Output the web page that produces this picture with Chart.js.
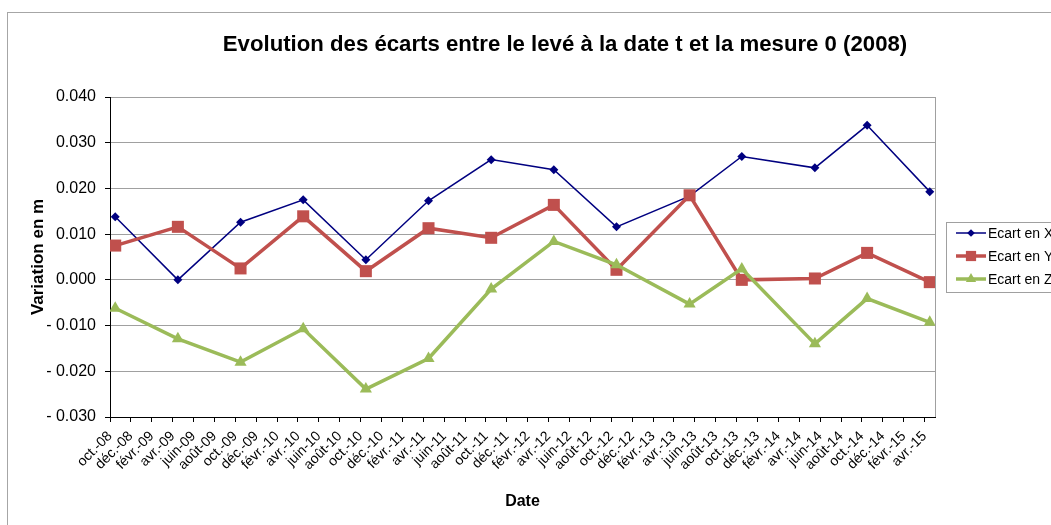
<!DOCTYPE html>
<html lang="fr">
<head>
<meta charset="utf-8">
<title>Evolution des écarts</title>
<script src="https://cdn.jsdelivr.net/npm/chart.js@4.4.1/dist/chart.umd.min.js"></script>
<style>
  html, body { margin: 0; padding: 0; background: #fff; overflow: hidden; }
  #cadre { position: relative; width: 1130px; height: 525px; }
</style>
</head>
<body>
<div id="cadre"><canvas id="graphe"></canvas></div>
<script>
// Dates des levés, en mois depuis le 1er oct. 2008 (levés en milieu de mois)
const moisLeves = [0.5, 6.5, 12.5, 18.5, 24.5, 30.5, 36.5, 42.5, 48.5, 55.5, 60.5, 67.5, 72.5, 78.5];

// Ecarts par rapport à la mesure 0, en m
const ecartX = [0.0138, 0.0000, 0.0126, 0.0175, 0.0044, 0.0173, 0.0263, 0.0241, 0.0116, 0.0183, 0.0270, 0.0245, 0.0338, 0.0193];
const ecartY = [0.0075, 0.0116, 0.0025, 0.0139, 0.0019, 0.0113, 0.0092, 0.0164, 0.0022, 0.0185, 0.0000, 0.0003, 0.0059, -0.0005];
const ecartZ = [-0.0062, -0.0129, -0.0180, -0.0107, -0.0239, -0.0172, -0.0020, 0.0084, 0.0033, -0.0053, 0.0024, -0.0140, -0.0041, -0.0093];

// Graduations de l'axe des dates : une tous les 2 mois depuis oct. 2008
const etiquettesDates = [
  'oct.-08', 'déc.-08',
  'févr.-09', 'avr.-09', 'juin-09', 'août-09', 'oct.-09', 'déc.-09',
  'févr.-10', 'avr.-10', 'juin-10', 'août-10', 'oct.-10', 'déc.-10',
  'févr.-11', 'avr.-11', 'juin-11', 'août-11', 'oct.-11', 'déc.-11',
  'févr.-12', 'avr.-12', 'juin-12', 'août-12', 'oct.-12', 'déc.-12',
  'févr.-13', 'avr.-13', 'juin-13', 'août-13', 'oct.-13', 'déc.-13',
  'févr.-14', 'avr.-14', 'juin-14', 'août-14', 'oct.-14', 'déc.-14',
  'févr.-15', 'avr.-15'
];

const titre = 'Evolution des écarts entre le levé à la date t et la mesure 0 (2008)';
const police = '"Liberation Sans", Arial, sans-serif';

const points = (valeurs) => moisLeves.map((m, i) => ({ x: m, y: valeurs[i] }));

// cadre, titre, bord droit de la zone de tracé et légende façon Excel
const habillage = {
  id: 'habillage',
  beforeDraw(chart) {
    const ctx = chart.ctx;
    ctx.save();
    ctx.strokeStyle = '#a6a6a6';
    ctx.lineWidth = 1;
    ctx.strokeRect(7.5, 12.5, chart.width - 15, chart.height + 20);
    ctx.fillStyle = '#000';
    ctx.font = 'bold 22.2px ' + police;
    ctx.textAlign = 'center';
    ctx.textBaseline = 'alphabetic';
    ctx.fillText(titre, chart.width / 2, 51);
    ctx.restore();
  },
  beforeDatasetsDraw(chart) {
    const { ctx, chartArea: a } = chart;
    ctx.save();
    ctx.strokeStyle = '#a0a0a0';
    ctx.lineWidth = 1;
    ctx.beginPath();
    ctx.moveTo(Math.round(a.right) + 0.5, a.top);
    ctx.lineTo(Math.round(a.right) + 0.5, a.bottom);
    ctx.stroke();
    ctx.restore();
  },
  afterDraw(chart) {
    const ctx = chart.ctx;
    const x0 = Math.round(chart.chartArea.right) + 11;
    const y0 = 222;
    ctx.save();
    ctx.strokeStyle = '#a0a0a0';
    ctx.lineWidth = 1;
    ctx.strokeRect(x0 + 0.5, y0 + 0.5, 130, 70);
    ctx.font = '14px ' + police;
    ctx.textBaseline = 'middle';
    ctx.textAlign = 'left';
    chart.data.datasets.forEach((ds, i) => {
      const y = y0 + 11 + i * 23;
      ctx.strokeStyle = ds.borderColor;
      ctx.lineWidth = ds.borderWidth;
      ctx.beginPath();
      ctx.moveTo(x0 + 10, y);
      ctx.lineTo(x0 + 40, y);
      ctx.stroke();
      ctx.fillStyle = ds.pointBackgroundColor;
      Chart.helpers.drawPoint(ctx, { pointStyle: ds.pointStyle, radius: ds.pointRadius * 0.85, rotation: 0, borderWidth: 0 }, x0 + 25, y);
      ctx.fillStyle = '#000';
      ctx.fillText(ds.label, x0 + 42, y + 1);
    });
    ctx.restore();
  }
};

new Chart(document.getElementById('graphe'), {
  type: 'line',
  data: {
    datasets: [
      {
        label: 'Ecart en X', data: points(ecartX), order: 3,
        borderColor: '#000080', backgroundColor: '#000080', borderWidth: 1.5,
        pointStyle: 'rectRot', pointRadius: 4.5, pointBackgroundColor: '#000080', pointBorderWidth: 0
      },
      {
        label: 'Ecart en Y', data: points(ecartY), order: 2,
        borderColor: '#c0504d', backgroundColor: '#c0504d', borderWidth: 3.5,
        pointStyle: 'rect', pointRadius: 8.5, pointBackgroundColor: '#c0504d', pointBorderWidth: 0
      },
      {
        label: 'Ecart en Z', data: points(ecartZ), order: 1,
        borderColor: '#9bbb59', backgroundColor: '#9bbb59', borderWidth: 3.5,
        pointStyle: 'triangle', pointRadius: 7, pointBackgroundColor: '#9bbb59', pointBorderWidth: 0
      }
    ]
  },
  options: {
    responsive: true,
    maintainAspectRatio: false,
    animation: false,
    layout: { padding: { top: 97, right: 195, bottom: 0, left: 0 } },
    plugins: {
      legend: { display: false },
      title: { display: false },
      tooltip: { enabled: false }
    },
    elements: { line: { tension: 0 } },
    scales: {
      x: {
        type: 'linear',
        min: 0,
        max: 79,
        afterBuildTicks: (s) => { s.ticks = etiquettesDates.map((_, i) => ({ value: i * 2 })); },
        afterFit: (s) => { s.height = 108; },
        grid: { drawOnChartArea: false, tickLength: 5, tickColor: '#000', color: '#000' },
        border: { color: '#000', width: 1 },
        ticks: {
          autoSkip: false, minRotation: 45, maxRotation: 45, padding: 6, color: '#000',
          font: { size: 14, family: police },
          callback: (v) => etiquettesDates[Math.round(v / 2)]
        },
        title: {
          display: true, text: 'Date', color: '#000',
          font: { size: 16, weight: 'bold', family: police },
          padding: { top: 0, bottom: 14 }
        }
      },
      y: {
        min: -0.03,
        max: 0.04,
        afterFit: (s) => { s.width = 110; },
        grid: { color: '#a0a0a0', tickColor: '#000', tickLength: 5 },
        border: { color: '#000', width: 1 },
        ticks: {
          stepSize: 0.01, padding: 9, color: '#000',
          font: { size: 16, family: police },
          callback: (v) => {
            const r = Math.round(v * 1000) / 1000;
            return r < 0 ? '- ' + (-r).toFixed(3) : r.toFixed(3);
          }
        },
        title: {
          display: true, text: 'Variation en m', color: '#000',
          font: { size: 17, weight: 'bold', family: police },
          padding: { top: 28, bottom: 0 }
        }
      }
    }
  },
  plugins: [habillage]
});
</script>
</body>
</html>
